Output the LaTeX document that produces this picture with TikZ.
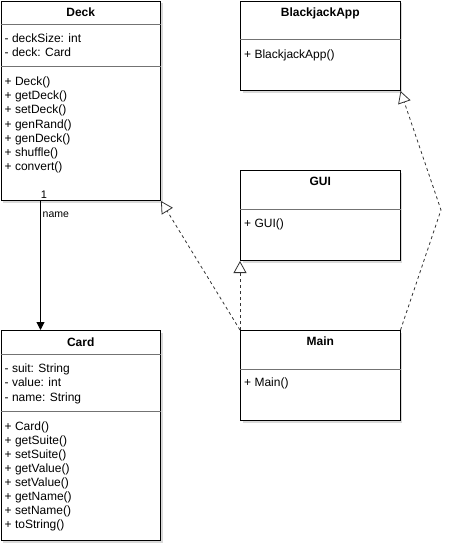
\documentclass[tikz,border=0pt]{standalone}
\usepackage{fontspec}
\setmainfont{Liberation Sans}
\usetikzlibrary{calc,
	positioning,
	shadows,
	arrows.meta}

\begin{document}
\begin{tikzpicture}[x=1pt, y=-1pt,
		font=\fontsize{12}{14}\selectfont,
		classbox/.style={draw=black, line width=1pt, fill=white, rectangle, inner sep=0pt,
			anchor=north west, minimum width=159.5pt,
			drop shadow={shadow xshift=2pt, shadow yshift=-2pt, opacity=0.25, fill=black!60}},
		sep/.style={draw=black!55, line width=0.8pt},
		title/.style={anchor=base, inner sep=0pt, font=\fontsize{12}{14}\selectfont\bfseries},
		member/.style={anchor=base west, inner sep=0pt},
		assoc/.style={draw=black, line width=1pt, -{Triangle[length=8pt, width=8pt]}},
		realize/.style={draw=black!80, line width=0.8pt, dash pattern=on 3pt off 3pt,
			-{Triangle[open, length=12pt, width=13pt, line width=0.8pt]}},
		mult/.style={anchor=base, inner sep=0pt, font=\fontsize{11}{13}\selectfont},
		role/.style={anchor=west, fill=white, inner sep=1pt, font=\fontsize{10.5}{12}\selectfont}]
	\useasboundingbox (0,0) rectangle (466,552);

	% Deck
	\node [classbox, minimum height=199.5pt] (deck) at (0.5,0.5) {};
	\draw [sep] ($(deck.north west)+(0,24)$) -- ($(deck.north east)+(0,24)$);
	\draw [sep] ($(deck.north west)+(0,66)$) -- ($(deck.north east)+(0,66)$);
	\node [title] (deck-t) at ($(deck.north)+(0,15.5)$) {Deck};
	\foreach \m [count=\i from 0] in {- deckSize: int, - deck: Card}
		\node [member] (deck-a\i) at ($(deck.north west)+(4,42+14.4*\i)$) {\m};
	\foreach \m [count=\i from 0] in {+ Deck(), + getDeck(), + setDeck(), + genRand(),
			+ genDeck(), + shuffle(), + convert()}
		\node [member] (deck-m\i) at ($(deck.north west)+(4,85+14.2*\i)$) {\m};

	% Card
	\node [classbox, minimum height=210pt] (card) at (0.5,330) {};
	\draw [sep] ($(card.north west)+(0,24)$) -- ($(card.north east)+(0,24)$);
	\draw [sep] ($(card.north west)+(0,81)$) -- ($(card.north east)+(0,81)$);
	\node [title] (card-t) at ($(card.north)+(0,16)$) {Card};
	\foreach \m [count=\i from 0] in {- suit: String, - value: int, - name: String}
		\node [member] (card-a\i) at ($(card.north west)+(4,42.5+14.4*\i)$) {\m};
	\foreach \m [count=\i from 0] in {+ Card(), + getSuite(), + setSuite(), + getValue(),
			+ setValue(), + getName(), + setName(), + toString()}
		\node [member] (card-m\i) at ($(card.north west)+(4,100+14.1*\i)$) {\m};

	% BlackjackApp
	\node [classbox, minimum height=89.5pt] (bjapp) at (240,0.5) {};
	\draw [sep] ($(bjapp.north west)+(0,39)$) -- ($(bjapp.north east)+(0,39)$);
	\node [title] (bjapp-t) at ($(bjapp.north)+(0,15.5)$) {BlackjackApp};
	\node [member] (bjapp-m0) at ($(bjapp.north west)+(4,57.5)$) {+ BlackjackApp()};

	% GUI
	\node [classbox, minimum height=90pt] (gui) at (240,170) {};
	\draw [sep] ($(gui.north west)+(0,39)$) -- ($(gui.north east)+(0,39)$);
	\node [title] (gui-t) at ($(gui.north)+(0,15)$) {GUI};
	\node [member] (gui-m0) at ($(gui.north west)+(4,57.5)$) {+ GUI()};

	% Main
	\node [classbox, minimum height=90pt] (main) at (240,330) {};
	\draw [sep] ($(main.north west)+(0,39)$) -- ($(main.north east)+(0,39)$);
	\node [title] (main-t) at ($(main.north)+(0,15)$) {Main};
	\node [member] (main-m0) at ($(main.north west)+(4,56.5)$) {+ Main()};

	% association Deck -> Card
	\coordinate (deck-out) at ($(deck.south west)+(40,0)$);
	\coordinate (card-in) at (deck-out |- card.north);
	\draw [assoc] (deck-out) -- (card-in);
	\node [mult] (deck-mult) at ($(deck-out)+(3.5,-3)$) {1};
	\node [role] (deck-role) at ($(deck-out)+(1,14)$) {name};

	% realizations from Main
	\coordinate (main-bend) at (441,210);
	\draw [realize] (main.north west) -- (deck.south east);
	\draw [realize] (main.north west) -- (gui.south west);
	\draw [realize] (main.north east) -- (main-bend) -- (bjapp.south east);
\end{tikzpicture}
\end{document}
